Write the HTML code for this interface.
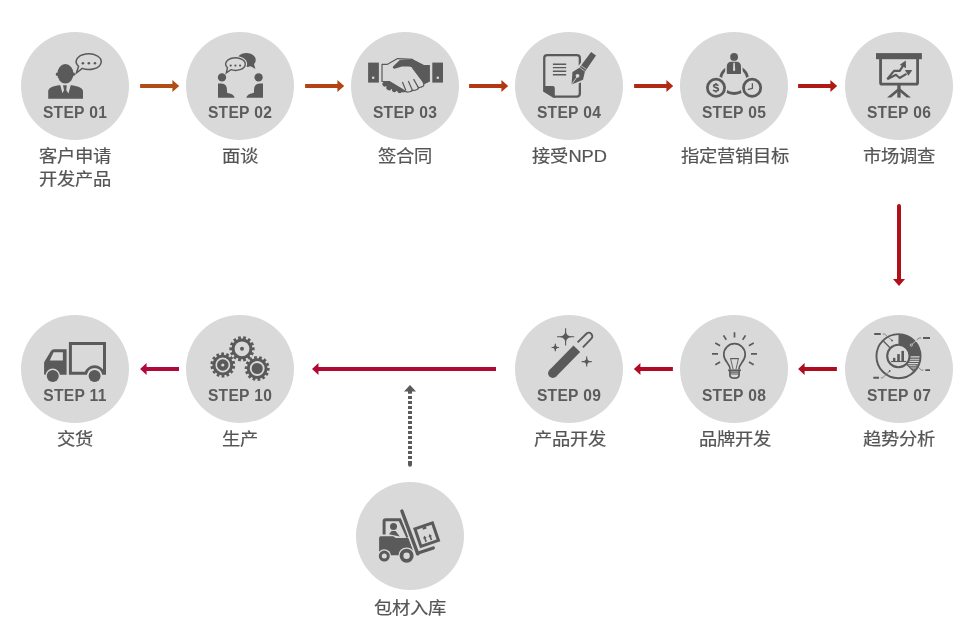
<!DOCTYPE html>
<html lang="zh-CN"><head><meta charset="utf-8">
<style>
html,body{margin:0;padding:0;background:#fff;}
body{width:976px;height:640px;position:relative;overflow:hidden;font-family:"Liberation Sans",sans-serif;}
svg{position:absolute;left:0;top:0;}
.st{position:absolute;width:120px;text-align:center;font-weight:bold;font-size:15.6px;line-height:16px;color:#5c5c5c;letter-spacing:0.3px;white-space:nowrap;will-change:transform;}
.lb{position:absolute;width:160px;text-align:center;font-size:18.3px;line-height:24.8px;color:#555;white-space:nowrap;transform:scaleY(0.91);transform-origin:50% 0;-webkit-text-stroke:0.22px #555;}
.layer{position:absolute;left:0;top:0;width:976px;height:640px;will-change:transform;}
</style></head>
<body>
<svg width="976" height="640" viewBox="0 0 976 640">
  <g fill="#d9d9d9">
    <circle cx="75" cy="86" r="54"/>
    <circle cx="240" cy="86" r="54"/>
    <circle cx="405" cy="86" r="54"/>
    <circle cx="569" cy="86" r="54"/>
    <circle cx="734" cy="86" r="54"/>
    <circle cx="899" cy="86" r="54"/>
    <circle cx="75" cy="369" r="54"/>
    <circle cx="240" cy="369" r="54"/>
    <circle cx="569" cy="369" r="54"/>
    <circle cx="734" cy="369" r="54"/>
    <circle cx="899" cy="369" r="54"/>
    <circle cx="410" cy="536" r="54"/>
  </g>
  <!-- icon1 -->
  <g fill="#5a5a5a">
    <ellipse cx="65.4" cy="73.8" rx="8.1" ry="9.7"/>
    <ellipse cx="57.1" cy="74.2" rx="1.3" ry="1.8"/>
    <ellipse cx="73.7" cy="74.2" rx="1.3" ry="1.8"/>
    <path d="M48.2 98.8V91.5C48.2 88 52 86.3 58.5 85.2H72C78.5 86.3 83 88 83 91.5V98.8Z"/>
    <path d="M60.2 84.7H63L64 90.3L62.4 93.3ZM66.8 84.7H70.8L68.5 93.4L66.3 90.3Z" fill="#d9d9d9"/>
    <path d="M78.6 66.26A12.5 7.9 0 1 1 82.3 68.4L76.4 73Z" fill="none" stroke="#5a5a5a" stroke-width="1.5" stroke-linejoin="miter"/>
    <circle cx="82.9" cy="63.3" r="1.3"/><circle cx="88.85" cy="63.3" r="1.3"/><circle cx="95" cy="63.3" r="1.3"/>
  </g>
  <!-- icon2 -->
  <g fill="#5a5a5a">
    <path d="M254.01 64.02A9.35 7 0 1 0 250.74 66.18L255.4 69Z"/>
    <path d="M227.47 67.71A9.8 6.3 0 1 1 230.9 69.66L226.3 72.8Z" fill="#d9d9d9" stroke="#d9d9d9" stroke-width="3.6" stroke-linejoin="round"/>
    <path d="M227.47 67.71A9.8 6.3 0 1 1 230.9 69.66L226.3 72.8Z" fill="#d9d9d9" stroke="#5a5a5a" stroke-width="1.4"/>
    <circle cx="230.7" cy="65.6" r="1.1"/><circle cx="235.4" cy="65.6" r="1.1"/><circle cx="240.1" cy="65.6" r="1.1"/>
    <circle cx="222" cy="77.4" r="4.15"/>
    <circle cx="258.6" cy="77.4" r="4.15"/>
    <path d="M218 83.6H221.5Q227 84 227 90V92.5Q227.5 93.3 229.5 93.4Q233.8 94.3 234.7 97.7H218Z"/>
    <path d="M263 83.6H259.5Q254 84 254 90V92.5Q253.5 93.3 251.5 93.4Q247.2 94.3 246.3 97.7H263Z"/>
  </g>
  <!-- icon3 -->
  <g fill="#5a5a5a">
    <rect x="368.1" y="62.6" width="10.8" height="20"/>
    <rect x="432.3" y="62.6" width="10.7" height="20"/>
    <circle cx="373.2" cy="77.7" r="1.3" fill="#d9d9d9"/>
    <circle cx="437.8" cy="77.7" r="1.3" fill="#d9d9d9"/>
    <path d="M397.6 58.6L412.5 59.3L423.7 64.9H429.7V81.5L423.7 84.2L418 89.5L411 91.8L405 92.3L401.5 92.3A2.3 2.3 0 0 1 397.4 91.2L396.3 90.9A2.3 2.3 0 0 1 392 89.3L391.3 88.9A2.3 2.3 0 0 1 386.6 86.6L386 86.2A2.3 2.3 0 0 1 383.6 82Z"/>
    <path d="M382 64.3H387.5L397.6 58.6L412.5 59.3L413 68.5L422.8 81.5Q424.8 85 423 86.3Q420.5 87.8 418.5 87.4Q418 89.5 416 90Q413.5 90.8 412.3 90.2Q411 92 408.5 92Q406.5 92.2 405.5 91.2L389.3 81.5H382Z" fill="#d9d9d9" stroke="#5a5a5a" stroke-width="1.2" stroke-linejoin="round"/>
    <path d="M402.4 82.1L405.9 90.6M408.3 80.9L412.3 90M413.6 79.1L418.4 87.6" stroke="#5a5a5a" stroke-width="1.2" fill="none"/>
    <path d="M399.8 60L412.5 59.3L423.7 64.9H429.7V81.5L423.7 84.2L422.8 81.5L413 68.5Q411.5 66.4 408.9 66.4H402L394.5 68.7Q392.3 68.5 393 66.6Z"/>
  </g>
  <!-- icon4 -->
  <g fill="#5a5a5a">
    <path d="M544.25 87V58.05Q544.25 55.05 547.25 55.05H576.85Q579.85 55.05 579.85 58.05V93.55Q579.85 96.55 576.85 96.55H553.5" fill="none" stroke="#5a5a5a" stroke-width="2.3"/>
    <path d="M543.1 85.9H552.8Q554.8 85.9 554.8 87.9V97.7H553.2L543.1 91.6Z"/>
    <path d="M552.9 64.2H566.2M552.9 67.65H566.2M552.9 71.25H566.2M552.9 74.8H566.2" stroke="#5a5a5a" stroke-width="1.4"/>
    <g stroke="#d9d9d9" stroke-width="3.6" stroke-linejoin="round">
      <path d="M571.60 84.40L572.45 72.07L579.35 67.78L591.12 52.08L596.00 55.58L584.88 71.75L583.02 79.66Z"/>
    </g>
    <path d="M571.60 84.40L572.45 72.07L579.35 67.78L591.12 52.08L596.00 55.58L584.88 71.75L583.02 79.66Z"/>
    <path d="M579.1 67.0L584.8 71.1M580.5 65.3L586.3 69.4" stroke="#d9d9d9" stroke-width="0.8"/>
    <circle cx="577.51" cy="75.83" r="1.9" fill="#d9d9d9"/>
    <path d="M571.78 84.16L576.86 77.08" stroke="#d9d9d9" stroke-width="0.9"/>
  </g>
  <!-- icon5 -->
  <g fill="#5a5a5a">
    <circle cx="734.1" cy="79.9" r="13.6" fill="none" stroke="#5a5a5a" stroke-width="2.8"/>
    <path d="M726.8 74V66.6Q726.8 61.8 731.6 61.8H736.2Q741 61.8 741 66.6V74Z" fill="#d9d9d9" stroke="#d9d9d9" stroke-width="3.2"/>
    <circle cx="716" cy="87.8" r="11.6" fill="#d9d9d9"/>
    <circle cx="752.1" cy="87.8" r="11.6" fill="#d9d9d9"/>
    <circle cx="734.1" cy="56.9" r="3.9"/>
    <path d="M726.8 74V66.6Q726.8 61.8 731.6 61.8H736.2Q741 61.8 741 66.6V73.3Q741 74 740.3 74H727.5Q726.8 74 726.8 73.3Z"/>
    <path d="M733.4 62.8H734.8L735.2 70.3L734.1 71.3L733 70.3Z" fill="#d9d9d9"/>
    <circle cx="716" cy="87.8" r="8.6" fill="none" stroke="#5a5a5a" stroke-width="2.8"/>
    <circle cx="752.1" cy="87.8" r="8.6" fill="none" stroke="#5a5a5a" stroke-width="2.8"/>
    <path d="M752.4 83.2V88.3L747.8 89.6" fill="none" stroke="#5a5a5a" stroke-width="1.3"/>
  </g>
  <path d="M718.3 85.7Q717.7 84.6 715.9 84.6Q713.7 84.6 713.7 86.1Q713.7 87.3 715.9 87.7Q718.3 88.1 718.3 89.6Q718.3 91 715.9 91Q713.8 91 713.2 89.9M715.9 83V84.6M715.9 91V92.6" fill="none" stroke="#5a5a5a" stroke-width="1.7"/>
  <!-- icon6 -->
  <g fill="#5a5a5a">
    <rect x="876" y="53.1" width="45.9" height="6.1"/>
    <path d="M880.55 58.5V82.7Q880.55 84.1 881.95 84.1H916.2Q917.6 84.1 917.6 82.7V58.5" fill="none" stroke="#5a5a5a" stroke-width="2.8"/>
    <rect x="897.3" y="85" width="3.3" height="12.6"/>
    <path d="M898.95 87.5L887 97.6H891.2L898.95 91ZM898.95 87.5L910.9 97.6H906.7L898.95 91Z"/>
    <path d="M887.2 79.2L894.1 70.9H899.7L903.8 64.6M887.2 79.2L895.9 74.7L899.7 78L906.5 73.8" fill="none" stroke="#5a5a5a" stroke-width="2.1" stroke-linejoin="miter"/>
    <path d="M899.8 64.8L905.8 60.6L906 68.2Z"/>
    <path d="M904.9 69.9L912.3 69.9L908.5 75.8Z"/>
  </g>
  <!-- icon7 -->
  <defs><clipPath id="c7"><path d="M920.70 356.20A22.2 22.2 0 0 1 914.20 371.90L906.63 364.33A11.5 11.5 0 0 0 910.00 356.20Z"/></clipPath></defs>
  <g fill="#5a5a5a">
    <circle cx="898.5" cy="356.2" r="22.05" fill="none" stroke="#5a5a5a" stroke-width="1.9"/>
    <circle cx="898.4" cy="356.0" r="11.2" fill="none" stroke="#5a5a5a" stroke-width="2.1"/>
    <path d="M898.50 334.00A22.2 22.2 0 0 1 920.70 356.20L910.00 356.20A11.5 11.5 0 0 0 898.50 344.70Z"/>
    <g clip-path="url(#c7)" stroke="#5a5a5a" stroke-width="1.1">
      <path d="M900 358.1H925M900 360.3H925M900 362.5H925M900 364.7H925M900 366.9H925M900 369.1H925M900 371.3H925"/>
    </g>
    <path d="M890.01 347.71L882.80 340.50M906.99 364.69L914.20 371.90" stroke="#5a5a5a" stroke-width="1.2"/>
    <path d="M891.1 361.5H906.1" stroke="#5a5a5a" stroke-width="1.1"/>
    <rect x="893" y="357.9" width="2.4" height="3.2"/>
    <rect x="897.2" y="354.1" width="2.6" height="7"/>
    <rect x="901.4" y="350.9" width="2.6" height="10.2"/>
    <path d="M874.2 334H880.8M923 338H930M925.3 370.1H930M873.3 377.8H879" stroke="#5a5a5a" stroke-width="1.9"/>
    <path d="M882.7 334H884.6L892 340.5M921.1 338H919L916.6 340.2M923.5 370.1H921.3L915 364M880.8 377.8H882.6L889.7 371" fill="none" stroke="#6e6e6e" stroke-width="0.8"/>
    <path d="M916.6 340.2L912 344.4" fill="none" stroke="#d9d9d9" stroke-width="0.8"/>
    <circle cx="892" cy="340.5" r="0.9"/>
    <circle cx="911.3" cy="345.1" r="1.1" fill="none" stroke="#d9d9d9" stroke-width="0.8"/>
    <circle cx="889.7" cy="371" r="0.9"/>
  </g>
  <!-- icon8 -->
  <g fill="none" stroke="#5a5a5a" stroke-width="1.7">
    <path d="M730.1 369.6C730.1 363.5 723.8 361.5 723.8 354.4A10.7 10.7 0 0 1 745.2 354.4C745.2 361.5 738.9 363.5 738.9 369.6"/>
    <path d="M728.1 370.3H740.9"/>
    <path d="M729.9 370.5V375Q729.9 378.1 734.5 378.2Q739.1 378.1 739.1 375V370.5"/>
    <path d="M730.3 372.1H738.7M730.3 374H738.7" stroke-width="1.1"/>
    <path d="M730.2 358.6H738.8" stroke-width="1.2"/>
    <path d="M730.6 358.6L733.1 369.3M738.4 358.6L736 369.3" stroke-width="0.9"/>
    <path d="M734.5 332.2V337.4M723.5 335.4L726.3 339.7M745.5 335.4L742.7 339.7M715.3 343.1L720.1 345.8M753.7 343.1L748.9 345.8M712 353.9H718M757 353.9H751M715.3 364.8L720.1 362.1M753.7 364.8L748.9 362.1"/>
  </g>
  <!-- icon9 -->
  <g fill="#5a5a5a">
    <path d="M565.60 328.00C565.60 334.69 567.71 336.80 574.40 336.80C567.71 336.80 565.60 338.91 565.60 345.60C565.60 338.91 563.49 336.80 556.80 336.80C563.49 336.80 565.60 334.69 565.60 328.00Z"/>
    <path d="M555.30 343.60C555.30 345.75 557.05 347.50 559.20 347.50C557.05 347.50 555.30 349.25 555.30 351.40C555.30 349.25 553.54 347.50 551.40 347.50C553.54 347.50 555.30 345.75 555.30 343.60Z"/>
    <path d="M586.70 356.50C586.70 359.56 588.74 361.60 591.80 361.60C588.74 361.60 586.70 363.64 586.70 366.70C586.70 363.64 584.66 361.60 581.60 361.60C584.66 361.60 586.70 359.56 586.70 356.50Z"/>
    <path d="M565.6 328.2V345.4M557 336.8H574.2M555.3 343.8V351.2M551.6 347.5H559M586.7 356.6V366.6M581.7 361.6H591.7" stroke="#5a5a5a" stroke-width="1.1"/>
    <path d="M552.8 373.2L576.8 348.8" stroke="#5a5a5a" stroke-width="9.4"/>
    <circle cx="552.8" cy="373.2" r="4.7"/>
    <path d="M577.6 342.4L586.4 333.8A3.45 3.45 0 0 1 591.3 338.7L582.9 347.4" fill="none" stroke="#5a5a5a" stroke-width="1.9"/>
  </g>
  <!-- icon10 -->
  <g fill="#5a5a5a">
    <path d="M252.31 347.45L254.61 347.32L254.61 350.28L252.31 350.15L251.88 352.06L254.01 352.94L252.72 355.61L250.71 354.49L249.48 356.02L251.02 357.74L248.70 359.59L247.37 357.70L245.61 358.55L246.25 360.77L243.36 361.43L242.98 359.15L241.02 359.15L240.64 361.43L237.75 360.77L238.39 358.55L236.63 357.70L235.30 359.59L232.98 357.74L234.52 356.02L233.29 354.49L231.28 355.61L229.99 352.94L232.12 352.06L231.69 350.15L229.39 350.28L229.39 347.32L231.69 347.45L232.12 345.54L229.99 344.66L231.28 341.99L233.29 343.11L234.52 341.58L232.98 339.86L235.30 338.01L236.63 339.90L238.39 339.05L237.75 336.83L240.64 336.17L241.02 338.45L242.98 338.45L243.36 336.17L246.25 336.83L245.61 339.05L247.37 339.90L248.70 338.01L251.02 339.86L249.48 341.58L250.71 343.11L252.72 341.99L254.01 344.66L251.88 345.54Z"/>
    <circle cx="242" cy="348.8" r="7.4" fill="#d9d9d9"/>
    <circle cx="242" cy="348.8" r="2"/>
    <path d="M233.07 365.82L235.25 366.15L234.64 369.01L232.51 368.43L231.70 370.19L233.51 371.44L231.73 373.75L230.06 372.30L228.56 373.54L229.66 375.45L227.05 376.76L226.17 374.73L224.29 375.19L224.45 377.39L221.53 377.43L221.62 375.23L219.72 374.83L218.91 376.88L216.26 375.65L217.29 373.70L215.76 372.52L214.14 374.01L212.28 371.76L214.06 370.45L213.20 368.72L211.09 369.36L210.39 366.52L212.56 366.12L212.53 364.18L210.35 363.85L210.96 360.99L213.09 361.57L213.90 359.81L212.09 358.56L213.87 356.25L215.54 357.70L217.04 356.46L215.94 354.55L218.55 353.24L219.43 355.27L221.31 354.81L221.15 352.61L224.07 352.57L223.98 354.77L225.88 355.17L226.69 353.12L229.34 354.35L228.31 356.30L229.84 357.48L231.46 355.99L233.32 358.24L231.54 359.55L232.40 361.28L234.51 360.64L235.21 363.48L233.04 363.88Z"/>
    <circle cx="222.8" cy="365" r="6.6" fill="none" stroke="#d9d9d9" stroke-width="1.6"/>
    <circle cx="222.8" cy="365" r="1.6" fill="#d9d9d9"/>
    <path d="M267.48 367.88L269.69 367.91L269.48 370.82L267.29 370.55L266.73 372.40L268.71 373.38L267.26 375.92L265.41 374.72L264.10 376.15L265.45 377.89L263.04 379.55L261.89 377.67L260.09 378.39L260.55 380.54L257.67 380.99L257.45 378.80L255.52 378.66L255.00 380.80L252.20 379.96L252.96 377.89L251.28 376.93L249.88 378.63L247.73 376.65L249.31 375.12L248.21 373.52L246.21 374.45L245.13 371.74L247.22 371.04L246.92 369.12L244.71 369.09L244.92 366.18L247.11 366.45L247.67 364.60L245.69 363.62L247.14 361.08L248.99 362.28L250.30 360.85L248.95 359.11L251.36 357.45L252.51 359.33L254.31 358.61L253.85 356.46L256.73 356.01L256.95 358.20L258.88 358.34L259.40 356.20L262.20 357.04L261.44 359.11L263.12 360.07L264.52 358.37L266.67 360.35L265.09 361.88L266.19 363.48L268.19 362.55L269.27 365.26L267.18 365.96Z"/>
    <circle cx="257.2" cy="368.5" r="6.5" fill="none" stroke="#d9d9d9" stroke-width="1.8"/>
  </g>
  <!-- icon11 -->
  <g fill="#5a5a5a">
    <path d="M44.1 374.2V362.3L50.6 351.4Q51.7 349.3 54.2 349.3H66.6V374.8H44.8Z"/>
    <path d="M49.8 360.5L53.6 352.3H62.9V360.5Z" fill="#d9d9d9"/>
    <path d="M70.4 343.6H104.5V373.3H103.4A9.2 9.2 0 0 0 85.8 373.3H70.4Z" fill="none" stroke="#5a5a5a" stroke-width="3"/>
    <circle cx="52.75" cy="375.9" r="7.3" fill="#d9d9d9"/>
    <circle cx="94.6" cy="375.9" r="7.3" fill="#d9d9d9"/>
    <circle cx="52.75" cy="375.9" r="6"/>
    <circle cx="94.6" cy="375.9" r="6"/>
  </g>
  <!-- forklift -->
  <g fill="#5a5a5a">
    <path d="M384.1 534.5V521.3Q384.1 519.8 385.6 519.8H399.9L407.8 537.4" fill="none" stroke="#5a5a5a" stroke-width="3"/>
    <circle cx="393.5" cy="526.4" r="3.5"/>
    <path d="M389 534.3L391.6 530.9H395.6L399.8 536.6Z"/>
    <path d="M390.8 530.5H396.2" stroke="#d9d9d9" stroke-width="0.8"/>
    <path d="M379.1 553V537.9Q379.1 536.3 380.7 536.3H393.2L395.8 537.9H408.5L413.2 550.3V555.3H384Z"/>
    <path d="M401.9 511L417.8 553.8" stroke="#d9d9d9" stroke-width="6.4"/>
    <path d="M401.9 511L417.8 553.8" stroke="#5a5a5a" stroke-width="3.4" stroke-linecap="round"/>
    <path d="M417.4 553.3L433.3 548" stroke="#5a5a5a" stroke-width="3.3" stroke-linecap="round"/>
    <circle cx="384.3" cy="556.1" r="6.8" fill="#d9d9d9"/>
    <circle cx="406.6" cy="555.7" r="8.3" fill="#d9d9d9"/>
    <circle cx="384.3" cy="556.1" r="4" fill="none" stroke="#5a5a5a" stroke-width="3"/>
    <circle cx="406.6" cy="555.7" r="5.1" fill="none" stroke="#5a5a5a" stroke-width="3.8"/>
    <g transform="translate(426.7 534.6) rotate(-19)">
      <rect x="-9.25" y="-9.25" width="18.5" height="18.5" fill="none" stroke="#5a5a5a" stroke-width="3"/>
      <rect x="-1.9" y="-8" width="3.8" height="2.2"/>
      <path d="M-2.9 0.3L-1.05 3.1H-2.1V6.7H-3.7V3.1H-4.75ZM2.7 0.3L4.55 3.1H3.5V6.7H1.9V3.1H0.85Z"/>
    </g>
  </g>
  <!-- row1 arrows -->
  <g>
    <path fill="#b24c17" d="M140.1 84H172.4V80L179.2 86L172.4 92V88H140.1Z"/>
    <path fill="#b34313" d="M305.1 84H337.4V80L344.2 86L337.4 92V88H305.1Z"/>
    <path fill="#b23813" d="M469.1 84H501.4V80L508.2 86L501.4 92V88H469.1Z"/>
    <path fill="#b02a13" d="M634.1 84H666.4V80L673.2 86L666.4 92V88H634.1Z"/>
    <path fill="#b01a14" d="M798.1 84H830.4V80L837.2 86L830.4 92V88H798.1Z"/>
  </g>
  <!-- vertical arrow -->
  <path fill="#b0101a" d="M897 206A2 2 0 0 1 901 206V279H905L899 286L893 279H897Z"/>
  <!-- row2 arrows -->
  <path fill="#b00c1f" d="M836.9 367H804.6V363L798.1 369L804.6 375V371H836.9Z"/>
  <path fill="#b00b25" d="M672.9 367H640.4V363L633.9 369L640.4 375V371H672.9Z"/>
  <path fill="#ae0a33" d="M496 367H318.5V363L312 369L318.5 375V371H496Z"/>
  <path fill="#b00a3c" d="M179 367H146.6V363L140.1 369L146.6 375V371H179Z"/>
  <!-- dashed arrow -->
  <g fill="#5a5a5a">
    <path d="M410 385L416 391.6H412V393.7H408V391.6H404Z"/>
    <path d="M408 396h4v3h-4zM408 401h4v3h-4zM408 406h4v3h-4zM408 411h4v3h-4zM408 416h4v3h-4zM408 421h4v3h-4zM408 426h4v3h-4zM408 431h4v3h-4zM408 436h4v3h-4zM408 441h4v3h-4zM408 446h4v3h-4zM408 451h4v3h-4zM408 456h4v3h-4z"/>
    <path d="M408 461h4v3.7a2 2 0 0 1 -4 0z"/>
  </g>
</svg>

<div class="layer">
<div class="st" style="left:15px;top:105px">STEP 01</div>
<div class="st" style="left:180px;top:105px">STEP 02</div>
<div class="st" style="left:345px;top:105px">STEP 03</div>
<div class="st" style="left:509px;top:105px">STEP 04</div>
<div class="st" style="left:674px;top:105px">STEP 05</div>
<div class="st" style="left:839px;top:105px">STEP 06</div>
<div class="st" style="left:15px;top:387.8px">STEP 11</div>
<div class="st" style="left:180px;top:387.8px">STEP 10</div>
<div class="st" style="left:509px;top:387.8px">STEP 09</div>
<div class="st" style="left:674px;top:387.8px">STEP 08</div>
<div class="st" style="left:839px;top:387.8px">STEP 07</div>

<div class="lb" style="left:-4.9px;top:146px">客户申请<br>开发产品</div>
<div class="lb" style="left:160.0px;top:146px">面谈</div>
<div class="lb" style="left:324.8px;top:146px">签合同</div>
<div class="lb" style="left:489.7px;top:146px">接受NPD</div>
<div class="lb" style="left:654.5px;top:146px">指定营销目标</div>
<div class="lb" style="left:819.4px;top:146px">市场调查</div>
<div class="lb" style="left:-4.9px;top:429px">交货</div>
<div class="lb" style="left:160.0px;top:429px">生产</div>
<div class="lb" style="left:489.7px;top:429px">产品开发</div>
<div class="lb" style="left:654.5px;top:429px">品牌开发</div>
<div class="lb" style="left:819.4px;top:429px">趋势分析</div>
<div class="lb" style="left:330.3px;top:597.6px">包材入库</div>
</div>
</body></html>
